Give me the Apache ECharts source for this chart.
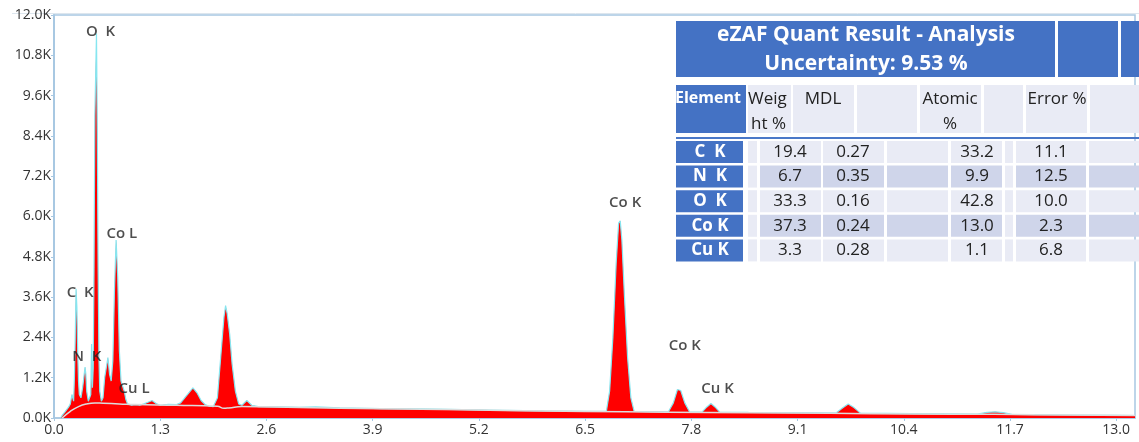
<!DOCTYPE html>
<html><head><meta charset="utf-8">
<script src="https://cdn.jsdelivr.net/npm/echarts@6/dist/echarts.min.js"></script>
<style>html,body{margin:0;padding:0;background:#fff}#c{width:1139px;height:442px}</style>
</head><body><div id="c"></div>
<script>
// ---- Spectrum data: [energy keV, counts] ----
const spectrum = [
[0.08,0],[0.10,80],[0.14,200],[0.18,330],[0.20,420],[0.22,700],[0.23,600],[0.24,500],[0.25,1200],[0.26,2400],[0.27,3850],[0.28,3300],[0.29,2000],[0.30,1100],[0.31,700],[0.33,600],[0.35,900],[0.36,1100],[0.38,1520],[0.39,1300],[0.40,800],[0.42,500],[0.44,480],[0.45,700],[0.46,2200],[0.47,900],[0.48,1500],[0.49,4500],[0.50,9000],[0.52,11450],[0.53,8500],[0.54,4500],[0.55,1800],[0.56,800],[0.58,500],[0.60,600],[0.62,1200],[0.66,1800],[0.68,1300],[0.70,1100],[0.72,1700],[0.74,3800],[0.76,5300],[0.77,5300],[0.78,4200],[0.80,2000],[0.82,1100],[0.84,950],[0.86,800],[0.88,550],[0.90,420],[0.95,380],[1.00,400],[1.05,380],[1.10,420],[1.15,470],[1.20,520],[1.25,430],[1.30,380],[1.40,410],[1.50,400],[1.55,450],[1.60,600],[1.65,750],[1.70,900],[1.75,750],[1.80,520],[1.85,400],[1.90,350],[1.95,340],[2.00,600],[2.04,1800],[2.08,3000],[2.10,3350],[2.12,3100],[2.15,2500],[2.18,1600],[2.22,800],[2.26,420],[2.30,380],[2.36,520],[2.42,380],[2.50,340],[2.8,330],[3.0,320],[3.2,330],[3.5,300],[3.8,290],[4.0,280],[4.5,270],[5.0,250],[5.5,230],[6.0,210],[6.5,200],[6.76,200],[6.80,800],[6.84,2400],[6.88,4600],[6.91,5800],[6.93,5870],[6.95,5300],[6.98,3700],[7.02,1800],[7.06,600],[7.10,200],[7.30,190],[7.52,185],[7.58,450],[7.63,850],[7.67,820],[7.72,450],[7.78,180],[7.93,175],[7.99,330],[8.04,430],[8.09,330],[8.15,170],[8.5,165],[9.0,160],[9.5,150],[9.57,150],[9.65,300],[9.72,420],[9.79,310],[9.87,145],[10.5,130],[11.0,120],[11.30,115],[11.42,170],[11.52,185],[11.62,160],[11.72,110],[12.0,100],[12.5,90],[13.0,80],[13.23,75]
];
// ---- Background fit line ----
const background = [
[0.10,0],[0.20,200],[0.30,340],[0.40,420],[0.50,450],[0.60,440],[0.80,420],[1.0,400],[1.5,380],[2.0,350],[2.08,290],[2.14,300],[2.3,340],[3.0,310],[4.0,275],[5.0,245],[6.0,210],[7.0,185],[8.0,165],[9.0,150],[10.0,130],[11.0,115],[12.0,100],[13.23,75]
];
// ---- Peak labels ----
const peakNames = ['O  K','Co L','C  K','N  K','Cu L','Co K','Co K','Cu K'];
const peakE     = [0.57, 0.83, 0.32, 0.40, 0.98, 6.99, 7.72, 8.12];
const peakY     = [11490, 5490, 3730, 1820, 870, 6420, 2150, 870];
// ---- Table ----
const titleLines = ['eZAF Quant Result - Analysis','Uncertainty: 9.53 %'];
const elements = ['C  K','N  K','O  K','Co K','Cu K'];
const weightPct = ['19.4','6.7','33.3','37.3','3.3'];
const mdl = ['0.27','0.35','0.16','0.24','0.28'];
const atomicPct = ['33.2','9.9','42.8','13.0','1.1'];
const errorPct = ['11.1','12.5','10.0','2.3','6.8'];
const xTicks = ['0.0','1.3','2.6','3.9','5.2','6.5','7.8','9.1','10.4','11.7','13.0'];

const chart = echarts.init(document.getElementById('c'));
const BLUE = '#4472c4', L1 = '#e9ebf5', L2 = '#cfd5ea';
const FONT = '"Open Sans", "Noto Sans", sans-serif';
const g = [];
// title blocks
g.push({type:'rect',shape:{x:676,y:21,width:379,height:56},style:{fill:BLUE}});
g.push({type:'rect',shape:{x:1058,y:21,width:60,height:56},style:{fill:BLUE}});
g.push({type:'rect',shape:{x:1121,y:21,width:18,height:56},style:{fill:BLUE}});
titleLines.forEach((t,i)=>g.push({type:'text',x:866,y:35+i*29,style:{text:t,fill:'#fff',font:'bold 21px '+FONT,align:'center',verticalAlign:'middle'}}));
// header row
g.push({type:'rect',shape:{x:676,y:85,width:70,height:48},style:{fill:BLUE}});
const hdrCells = [[748,791],[793,854],[857,917],[920,981],[984,1023],[1026,1087],[1090,1139]];
hdrCells.forEach(c=>g.push({type:'rect',shape:{x:c[0],y:85,width:c[1]-c[0],height:48},style:{fill:L1}}));
g.push({type:'text',x:675,y:98,style:{text:'Element',fill:'#fff',font:'bold 16px '+FONT,align:'left',verticalAlign:'middle'}});
const hdrTexts = [['Weig',748,99,'left'],['ht %',751,124,'left'],['MDL',823,99,'center'],['Atomic',950,99,'center'],['%',950,124,'center'],['Error %',1057,99,'center']];
hdrTexts.forEach(h=>g.push({type:'text',x:h[1],y:h[2],style:{text:h[0],fill:'#222',font:'17px '+FONT,align:h[3],verticalAlign:'middle'}}));
g.push({type:'rect',shape:{x:676,y:137,width:463,height:2},style:{fill:'#4a78c8'}});
// data rows
const rowCells = [[748,757,false],[760,821,true],[823,884,true],[887,948,true],[951,1002,true],[1005,1013,false],[1016,1086,true],[1089,1139,true]];
const colVals = [[weightPct,790],[mdl,853],[atomicPct,977],[errorPct,1051]];
elements.forEach((el,i)=>{
  const y0 = 141 + i*24.6, h = 22;
  g.push({type:'rect',shape:{x:676,y:y0,width:67,height:h},style:{fill:BLUE}});
  g.push({type:'text',x:710,y:y0+h/2,style:{text:el,fill:'#fff',font:'bold 17px '+FONT,align:'center',verticalAlign:'middle'}});
  rowCells.forEach(c=>g.push({type:'rect',shape:{x:c[0],y:y0,width:c[1]-c[0],height:h},style:{fill:(i%2===1&&c[2])?L2:L1}}));
  colVals.forEach(cv=>g.push({type:'text',x:cv[1],y:y0+h/2,style:{text:cv[0][i],fill:'#222',font:'17px '+FONT,align:'center',verticalAlign:'middle'}}));
});
g.push({type:'line',shape:{x1:12,y1:13.5,x2:1139,y2:13.5},style:{stroke:'#dde6ee',lineWidth:1}});

chart.setOption({
  animation:false,
  backgroundColor:'#fff',
  grid:{left:54,right:4,top:15,bottom:24,show:true,borderColor:'#a8c8e2',borderWidth:1.5},
  xAxis:{type:'value',min:0,max:13.23,interval:1.3,
    axisLine:{show:true,lineStyle:{color:'#a8c8e2',width:1.5}},
    axisTick:{show:true,length:3,lineStyle:{color:'#a8c8e2'}},
    splitLine:{show:false},
    axisLabel:{showMaxLabel:false,color:'#333',fontSize:14,fontFamily:FONT,margin:5,
      formatter:v=>xTicks[Math.round(v/1.3)] || ''}},
  yAxis:{type:'value',min:0,max:12000,interval:1200,
    axisLine:{show:true,lineStyle:{color:'#a8c8e2',width:2}},
    axisTick:{show:true,length:3,lineStyle:{color:'#a8c8e2'}},
    splitLine:{show:false},
    axisLabel:{color:'#333',fontSize:14,fontFamily:FONT,margin:3,
      formatter:v=>(v/1000).toFixed(1)+'K'}},
  series:[
    {type:'line',data:spectrum,symbol:'none',smooth:false,
      lineStyle:{color:'#86e6f0',width:1.2},areaStyle:{color:'#ff0000',opacity:1},z:2},
    {type:'line',data:background,symbol:'none',smooth:true,
      lineStyle:{color:'#dcdcdc',width:1.5},z:3},
    {type:'scatter',data:peakE.map((e,i)=>[e,peakY[i],peakNames[i]]),symbolSize:1,
      itemStyle:{color:'rgba(0,0,0,0)'},
      label:{show:true,position:'inside',formatter:p=>p.data[2],color:'#222',
        fontSize:15,fontWeight:600,fontFamily:FONT},z:5}
  ],
  graphic:g
});
</script></body></html>
